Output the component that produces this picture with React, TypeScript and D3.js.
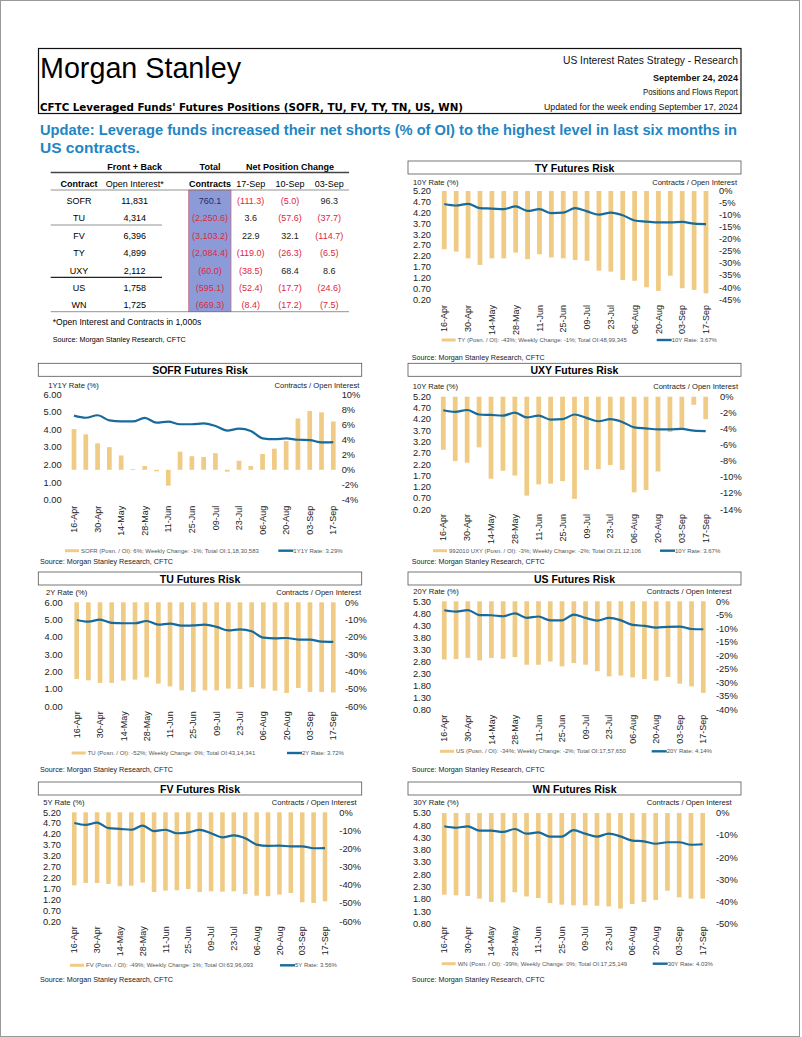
import * as d3 from 'd3';

const FONT = "'Liberation Sans', Arial, sans-serif";
const BAR = '#f0cb85';
const LINE = '#176b9c';
const RED = '#e0263f';

// weekly report dates
const dates = ['16-Apr', '23-Apr', '30-Apr', '07-May', '14-May', '21-May', '28-May', '04-Jun', '11-Jun', '18-Jun', '25-Jun', '02-Jul',
  '09-Jul', '16-Jul', '23-Jul', '30-Jul', '06-Aug', '13-Aug', '20-Aug', '27-Aug', '03-Sep', '10-Sep', '17-Sep'];

// positions as % of open interest
const tyPos = [-24.2, -25.2, -28, -30.7, -28, -28, -25.6, -28.3, -26.3, -27.6, -28, -28.7, -29, -33.1, -33.5, -37, -37.3, -40, -41.5, -35.2, -40.4, -41.1, -42.5];
const sofrPos = [5.4, 4.7, 3.5, 3.0, 1.9, 0.1, 0.5, -0.2, -2.1, 2.4, 1.8, 1.7, 2.2, -0.25, 1.2, 0.5, 2.1, 2.8, 3.8, 6.8, 7.8, 7.6, 6.4];
const uxyPos = [-6.6, -8.0, -8.2, -6.3, -10.2, -9.2, -9.8, -12.3, -10.9, -10.8, -10.5, -12.7, -9.1, -9.0, -8.5, -9.1, -11.9, -11.6, -9.3, -4.4, -4.0, -1.0, -2.8];
const tuPos = [-44.2, -45, -46.5, -46.5, -45.2, -44.6, -43.3, -46.9, -48.5, -50.8, -51.7, -50.8, -50.8, -49.8, -50, -49, -49.8, -51, -52.3, -49.4, -51.7, -51.7, -52];
const usPos = [-21.5, -21.3, -20.9, -21.8, -20.9, -21.2, -20.6, -23.4, -23.4, -22.2, -24, -22.8, -23.4, -25.8, -27.7, -27.4, -28.1, -28.7, -29.3, -27.9, -30.4, -31.4, -33.8];
const fvPos = [-40.2, -38.9, -38.9, -39.4, -40.7, -40.4, -38.7, -43.9, -43.1, -42.9, -42.2, -43.9, -43.5, -43.7, -43.5, -45, -45.9, -46.2, -45.3, -44.4, -49.5, -49.9, -49];
const wnPos = [-36.9, -37.2, -37.5, -38.7, -40.2, -40.4, -35.8, -37.7, -38.4, -40.7, -41.4, -41.7, -41.7, -41.9, -42.2, -43.2, -41.1, -40.2, -39.3, -35.1, -38.1, -38.7, -38.7];

// yields (%)
const tenYear = [4.60, 4.53, 4.61, 4.41, 4.39, 4.36, 4.49, 4.28, 4.36, 4.18, 4.20, 4.41, 4.26, 4.11, 4.20, 4.08, 3.84, 3.79, 3.75, 3.75, 3.77, 3.69, 3.67];
const oneYoneY = [4.79, 4.67, 4.81, 4.52, 4.46, 4.46, 4.66, 4.39, 4.45, 4.30, 4.30, 4.35, 4.20, 3.94, 4.05, 3.92, 3.50, 3.45, 3.50, 3.42, 3.40, 3.27, 3.29];
const twoYear = [4.98, 4.88, 5.0, 4.81, 4.79, 4.79, 4.92, 4.71, 4.77, 4.65, 4.67, 4.71, 4.58, 4.38, 4.44, 4.33, 3.96, 3.92, 3.94, 3.85, 3.85, 3.73, 3.72];
const twentyYear = [4.93, 4.87, 4.93, 4.73, 4.72, 4.68, 4.80, 4.61, 4.67, 4.51, 4.51, 4.75, 4.61, 4.50, 4.61, 4.51, 4.32, 4.28, 4.21, 4.24, 4.25, 4.15, 4.14];
const fiveYear = [4.71, 4.62, 4.73, 4.47, 4.44, 4.40, 4.59, 4.34, 4.40, 4.24, 4.28, 4.39, 4.24, 4.05, 4.14, 4.01, 3.72, 3.66, 3.67, 3.64, 3.64, 3.55, 3.56];
const thirtyYear = [4.76, 4.70, 4.76, 4.58, 4.58, 4.53, 4.65, 4.46, 4.51, 4.34, 4.34, 4.60, 4.46, 4.34, 4.46, 4.35, 4.18, 4.15, 4.05, 4.11, 4.11, 4.01, 4.03];

// tick labels
const rateTicksA = [0.2, 0.7, 1.2, 1.7, 2.2, 2.7, 3.2, 3.7, 4.2, 4.7, 5.2];
const rateTicksB = [0.8, 1.3, 1.8, 2.3, 2.8, 3.3, 3.8, 4.3, 4.8, 5.3];
const rateTicksC = [0, 1, 2, 3, 4, 5, 6];
const tyPct = [0, -5, -10, -15, -20, -25, -30, -35, -40, -45];
const sofrPct = [10, 8, 6, 4, 2, 0, -2, -4];
const uxyPct = [0, -2, -4, -6, -8, -10, -12, -14];
const tuPct = [0, -10, -20, -30, -40, -50, -60];
const usPct = [0, -5, -10, -15, -20, -25, -30, -35, -40];
const fvPct = [0, -10, -20, -30, -40, -50, -60];
const wnPct = [0, -10, -20, -30, -40, -50];

// table
const contracts = ['SOFR', 'TU', 'FV', 'TY', 'UXY', 'US', 'WN'];
const openInterest = ['11,831', '4,314', '6,396', '4,899', '2,112', '1,758', '1,725'];
const totalContracts = [760.1, -2250.6, -3103.2, -2084.4, -60.0, -595.1, -669.3];
const chg17Sep = [-111.3, 3.6, 22.9, -119.0, -38.5, -52.4, -8.4];
const chg10Sep = [-5.0, -57.6, 32.1, -26.3, 68.4, -17.7, -17.2];
const chg03Sep = [96.3, -37.7, -114.7, -6.5, 8.6, -24.6, -7.5];

const fmt = d3.format(',.1f');
const cell = (v: number) => (v < 0 ? `(${fmt(-v)})` : fmt(v));

interface PanelProps {
  title: string;
  rateLabel: string;
  pos: number[];
  rate: number[];
  rateTicks: number[];
  pctTicks: number[];
  legendBar: string;
  legendLine: string;
  box: [number, number];
  titleY: number;
  plot: { x0: number; x1: number; y0: number; y1: number };
  leftX: number;
  rightX: number;
  axisTitleX: number;
  axisTitleY: number;
  contractsX: number;
  xLabelY: number;
  legendY: number;
  legendX: [number, number];
  sourceX: number;
  sourceY: number;
}

function Panel(p: PanelProps) {
  const x = d3.scalePoint<string>().domain(dates).range([p.plot.x0, p.plot.x1]);
  const bw = x.step() * 0.4;
  const yL = d3.scaleLinear()
    .domain([p.rateTicks[0], p.rateTicks[p.rateTicks.length - 1]])
    .range([p.plot.y1, p.plot.y0]);
  const yR = d3.scaleLinear()
    .domain([p.pctTicks[p.pctTicks.length - 1], p.pctTicks[0]])
    .range([p.plot.y1, p.plot.y0]);
  const line = d3.line<number>()
    .x((_, i) => x(dates[i])!)
    .y(d => yL(d))
    .curve(d3.curveMonotoneX);

  return (
    <g fontFamily={FONT}>
      <rect x={p.box[0]} y={p.titleY} width={p.box[1] - p.box[0]} height={13} fill="#fff" stroke="#555" strokeWidth={0.8} />
      <text x={(p.box[0] + p.box[1]) / 2} y={p.titleY + 10.5} textAnchor="middle" fontSize={10.5} fontWeight="bold">{p.title}</text>
      <text x={p.axisTitleX} y={p.axisTitleY} fontSize={7.6} fill="#222">{p.rateLabel}</text>
      <text x={p.contractsX} y={p.axisTitleY} fontSize={7.6} fill="#222" textAnchor="end">Contracts / Open Interest</text>

      {p.rateTicks.map(t => (
        <text key={'l' + t} x={p.leftX} y={yL(t)} dy="0.35em" fontSize={9.3} textAnchor="end" fill="#222">{d3.format('.2f')(t)}</text>
      ))}
      {p.pctTicks.map(t => (
        <text key={'r' + t} x={p.rightX} y={yR(t)} dy="0.35em" fontSize={9.3} fill="#222">{`${t}%`}</text>
      ))}

      {p.pos.map((v, i) => (
        <rect key={i} x={x(dates[i])! - bw / 2} width={bw}
          y={Math.min(yR(0), yR(v))} height={Math.abs(yR(v) - yR(0))} fill={BAR} />
      ))}
      <path d={line(p.rate)!} fill="none" stroke={LINE} strokeWidth={2.2} />

      {dates.filter((_, i) => i % 2 === 0).map(d => (
        <text key={d} transform={`translate(${x(d)},${p.xLabelY}) rotate(-90)`} dy="0.35em"
          textAnchor="end" fontSize={9} fill="#222">{d}</text>
      ))}

      <rect x={p.legendX[0]} y={p.legendY - 1.5} width={14} height={3} fill={BAR} />
      <text x={p.legendX[0] + 16} y={p.legendY + 2} fontSize={6} fill="#555">{p.legendBar}</text>
      <line x1={p.legendX[1]} x2={p.legendX[1] + 15} y1={p.legendY} y2={p.legendY} stroke={LINE} strokeWidth={2.4} />
      <text x={p.legendX[1] + 15} y={p.legendY + 2} fontSize={6} fill="#555">{p.legendLine}</text>

      <text x={p.sourceX} y={p.sourceY + 2.5} fontSize={7.2} fill="#222">Source: Morgan Stanley Research, CFTC</text>
    </g>
  );
}

function Table() {
  const rowY = [200.3, 217.7, 235.3, 252.7, 270.3, 287.7, 304.7];
  const colX = { contract: 79, oi: 134.7, total: 210, c17: 250.7, c10: 290, c03: 329.3 };
  const neg = (v: number) => (v < 0 ? RED : '#222');
  return (
    <g fontFamily={FONT} fontSize={9}>
      <rect x={188.7} y={190} width={42.3} height={121.7} fill="#8c9bd7" stroke="#c8607a" strokeWidth={0.7} />
      <text x={colX.oi} y={170} textAnchor="middle" fontWeight="bold">Front + Back</text>
      <text x={colX.total} y={170} textAnchor="middle" fontWeight="bold">Total</text>
      <text x={colX.c10} y={170} textAnchor="middle" fontWeight="bold">Net Position Change</text>
      <line x1={50.7} x2={349} y1={172.5} y2={172.5} stroke="#444" strokeWidth={1.3} />
      <text x={colX.contract} y={187.3} textAnchor="middle" fontWeight="bold">Contract</text>
      <text x={colX.oi} y={187.3} textAnchor="middle">Open Interest*</text>
      <text x={colX.total} y={187.3} textAnchor="middle" fontWeight="bold">Contracts</text>
      <text x={colX.c17} y={187.3} textAnchor="middle">17-Sep</text>
      <text x={colX.c10} y={187.3} textAnchor="middle">10-Sep</text>
      <text x={colX.c03} y={187.3} textAnchor="middle">03-Sep</text>
      <line x1={50.7} x2={349} y1={190} y2={190} stroke="#777" strokeWidth={0.8} />
      {contracts.map((c, i) => (
        <g key={c}>
          <text x={colX.contract} y={rowY[i] + 3.3} textAnchor="middle">{c}</text>
          <text x={colX.oi} y={rowY[i] + 3.3} textAnchor="middle">{openInterest[i]}</text>
          <text x={colX.total} y={rowY[i] + 3.3} textAnchor="middle" fill={totalContracts[i] < 0 ? RED : '#1d2a6b'}>{cell(totalContracts[i])}</text>
          <text x={colX.c17} y={rowY[i] + 3.3} textAnchor="middle" fill={neg(chg17Sep[i])}>{cell(chg17Sep[i])}</text>
          <text x={colX.c10} y={rowY[i] + 3.3} textAnchor="middle" fill={neg(chg10Sep[i])}>{cell(chg10Sep[i])}</text>
          <text x={colX.c03} y={rowY[i] + 3.3} textAnchor="middle" fill={neg(chg03Sep[i])}>{cell(chg03Sep[i])}</text>
        </g>
      ))}
      <line x1={50.7} x2={162} y1={225} y2={225} stroke="#777" strokeWidth={0.8} />
      <line x1={50.7} x2={162} y1={277.3} y2={277.3} stroke="#222" strokeWidth={1.2} />
      <line x1={50.7} x2={349} y1={311.7} y2={311.7} stroke="#777" strokeWidth={0.8} />
      <text x={52.7} y={325} fontSize={8.6}>*Open Interest and Contracts in 1,000s</text>
      <text x={52.7} y={341.5} fontSize={7.2}>Source: Morgan Stanley Research, CFTC</text>
    </g>
  );
}

export default function App() {
  return (
    <>
      <style>{`body { margin: 0; }`}</style>
      <svg width={802} height={1037} style={{ display: 'block', background: '#fff' }}>
        <rect x={0.5} y={0.5} width={799} height={1036} fill="#fff" stroke="#999" />

        {/* header */}
        <rect x={38.5} y={48.5} width={702.5} height={65} fill="none" stroke="#111" strokeWidth={1.2} />
        <text x={40} y={77.5} fontFamily={FONT} fontSize={30} textLength={201} lengthAdjust="spacingAndGlyphs">Morgan Stanley</text>
        <text x={40} y={111} fontFamily="'DejaVu Sans', Verdana, sans-serif" fontWeight="bold" fontSize={10.5}
          textLength={423} lengthAdjust="spacingAndGlyphs">CFTC Leveraged Funds' Futures Positions (SOFR, TU, FV, TY, TN, US, WN)</text>
        <g fontFamily={FONT} textAnchor="end" fill="#111">
          <text x={738} y={64} fontSize={11} textLength={175} lengthAdjust="spacingAndGlyphs">US Interest Rates Strategy - Research</text>
          <text x={738} y={81} fontSize={9.5} fontWeight="bold" textLength={85} lengthAdjust="spacingAndGlyphs">September 24, 2024</text>
          <text x={738} y={95} fontSize={9.5} textLength={95} lengthAdjust="spacingAndGlyphs">Positions and Flows Report</text>
          <text x={738} y={110} fontSize={9.5} textLength={194} lengthAdjust="spacingAndGlyphs">Updated for the week ending September 17, 2024</text>
        </g>
        <g fontFamily={FONT} fontWeight="bold" fontSize={15.5} fill="#1f86c3">
          <text x={40} y={134.5} textLength={697} lengthAdjust="spacingAndGlyphs">Update: Leverage funds increased their net shorts (% of OI) to the highest level in last six months in</text>
          <text x={40} y={152.5}>US contracts.</text>
        </g>

        <Table />

        <Panel title="TY Futures Risk" rateLabel="10Y Rate (%)" pos={tyPos} rate={tenYear}
          rateTicks={rateTicksA} pctTicks={tyPct}
          legendBar="TY (Posn. / OI): -43%; Weekly Change: -1%; Total OI:48,99,345" legendLine="10Y Rate: 3.67%"
          box={[408, 741]} titleY={161} plot={{ x0: 444.3, x1: 706, y0: 191, y1: 299.3 }}
          leftX={431} rightX={719} axisTitleX={413} axisTitleY={184.5} contractsX={737}
          xLabelY={305} legendY={340} legendX={[441.7, 656.7]} sourceX={411.7} sourceY={357.3} />

        <Panel title="SOFR Futures Risk" rateLabel="1Y1Y Rate (%)" pos={sofrPos} rate={oneYoneY}
          rateTicks={rateTicksC} pctTicks={sofrPct}
          legendBar="SOFR (Posn. / OI): 6%; Weekly Change: -1%; Total OI:1,18,30,583" legendLine="1Y1Y Rate: 3.29%"
          box={[38.3, 361.7]} titleY={363.3} plot={{ x0: 74, x1: 333.3, y0: 394.3, y1: 500 }}
          leftX={61.7} rightX={341.7} axisTitleX={48.3} axisTitleY={387.8} contractsX={359.3}
          xLabelY={505.7} legendY={550.7} legendX={[65, 278.3]} sourceX={40} sourceY={561.3} />

        <Panel title="UXY Futures Risk" rateLabel="10Y Rate (%)" pos={uxyPos} rate={tenYear}
          rateTicks={rateTicksA} pctTicks={uxyPct}
          legendBar="992010 UXY (Posn. / OI): -3%; Weekly Change: -2%; Total OI:21,12,106" legendLine="10Y Rate: 3.67%"
          box={[408, 741]} titleY={363.3} plot={{ x0: 443.3, x1: 705.7, y0: 396.7, y1: 509.3 }}
          leftX={431} rightX={720} axisTitleX={412.7} axisTitleY={388.5} contractsX={738}
          xLabelY={514} legendY={550.7} legendX={[433, 660]} sourceX={411.7} sourceY={561.3} />

        <Panel title="TU Futures Risk" rateLabel="2Y Rate (%)" pos={tuPos} rate={twoYear}
          rateTicks={rateTicksC} pctTicks={tuPct}
          legendBar="TU (Posn. / OI): -52%; Weekly Change: 0%; Total OI:43,14,341" legendLine="2Y Rate: 3.72%"
          box={[38.3, 361.7]} titleY={572} plot={{ x0: 76.7, x1: 333.3, y0: 602.3, y1: 706.3 }}
          leftX={62.7} rightX={345} axisTitleX={46} axisTitleY={595} contractsX={361}
          xLabelY={711.3} legendY={753} legendX={[71.7, 287]} sourceX={40} sourceY={769.7} />

        <Panel title="US Futures Risk" rateLabel="20Y Rate (%)" pos={usPos} rate={twentyYear}
          rateTicks={rateTicksB} pctTicks={usPct}
          legendBar="US (Posn. / OI): -34%; Weekly Change: -2%; Total OI:17,57,650" legendLine="20Y Rate: 4.14%"
          box={[408, 741]} titleY={572} plot={{ x0: 444.3, x1: 703.3, y0: 601.3, y1: 709.7 }}
          leftX={431} rightX={716} axisTitleX={413.3} axisTitleY={593.5} contractsX={731.7}
          xLabelY={714.7} legendY={751.3} legendX={[440, 651.7]} sourceX={411.7} sourceY={769.7} />

        <Panel title="FV Futures Risk" rateLabel="5Y Rate (%)" pos={fvPos} rate={fiveYear}
          rateTicks={rateTicksA} pctTicks={fvPct}
          legendBar="FV (Posn. / OI): -49%; Weekly Change: 1%; Total OI:63,96,093" legendLine="5Y Rate: 3.56%"
          box={[38.3, 361.7]} titleY={782} plot={{ x0: 74.3, x1: 325, y0: 812.3, y1: 921.3 }}
          leftX={61} rightX={339.3} axisTitleX={43.3} axisTitleY={805} contractsX={356.7}
          xLabelY={926.3} legendY={965.3} legendX={[70, 280]} sourceX={40} sourceY={979} />

        <Panel title="WN Futures Risk" rateLabel="30Y Rate (%)" pos={wnPos} rate={thirtyYear}
          rateTicks={rateTicksB} pctTicks={wnPct}
          legendBar="WN (Posn. / OI): -39%; Weekly Change: 0%; Total OI:17,25,149" legendLine="30Y Rate: 4.03%"
          box={[408, 741]} titleY={782} plot={{ x0: 444.3, x1: 702.7, y0: 813, y1: 923.7 }}
          leftX={431} rightX={716} axisTitleX={413.3} axisTitleY={805} contractsX={731.7}
          xLabelY={926.3} legendY={963.7} legendX={[441.7, 652.7]} sourceX={411.7} sourceY={979.7} />
      </svg>
    </>
  );
}
